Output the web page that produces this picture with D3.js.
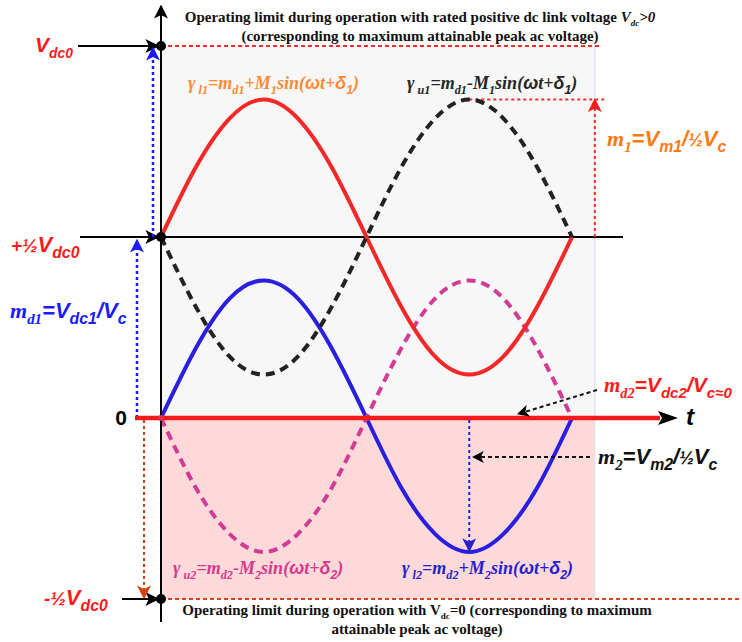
<!DOCTYPE html>
<html>
<head>
<meta charset="utf-8">
<script src="https://cdn.jsdelivr.net/npm/d3@7/dist/d3.min.js"></script>
<style>
  html, body { margin: 0; padding: 0; background: #fff; }
  svg { display: block; }
</style>
</head>
<body>
<svg id="chart" width="742" height="642"></svg>
<script>
// phase angle (deg) and the four switching-function curves
var phase   = [0, 30, 60, 90, 120, 150, 180, 210, 240, 270, 300, 330, 360];
var gammaL1 = [0.5, 0.68, 0.81, 0.86, 0.81, 0.68, 0.5, 0.31, 0.17, 0.12, 0.17, 0.31, 0.5];
var gammaU1 = [0.5, 0.31, 0.17, 0.12, 0.17, 0.31, 0.5, 0.68, 0.81, 0.86, 0.81, 0.68, 0.5];
var gammaL2 = [0, 0.19, 0.33, 0.38, 0.33, 0.19, 0, -0.19, -0.32, -0.37, -0.32, -0.19, 0];
var gammaU2 = [0, -0.19, -0.32, -0.37, -0.32, -0.19, 0, 0.19, 0.33, 0.38, 0.33, 0.19, 0];

// voltage levels on the vertical axis (in Vdc0 units)
var levels = [1, 0.5, 0, -0.5];

var topNote = ["Operating limit during operation with rated positive dc link voltage ",
               "(corresponding to maximum attainable peak ac voltage)"];
var botNote = ["Operating limit during operation with V", "=0 (corresponding to maximum",
               "attainable peak ac voltage)"];

var serif = "'Liberation Serif','Times New Roman',serif",
    sans  = "'Liberation Sans',Arial,sans-serif";

var svg = d3.select("#chart");

var x = d3.scaleLinear().domain([0, 360]).range([161, 572]);
var y = d3.scaleLinear().domain([-0.5, 0, 0.5, 1]).range([599, 418, 237, 46]);

var xEnd = x(380); // right edge of shaded areas

// arrowhead markers
var defs = svg.append("defs");
function marker(id, col, w) {
  defs.append("marker")
      .attr("id", id)
      .attr("viewBox", "0 0 10 10")
      .attr("refX", 9).attr("refY", 5)
      .attr("markerUnits", "userSpaceOnUse")
      .attr("markerWidth", w).attr("markerHeight", w)
      .attr("orient", "auto")
    .append("path")
      .attr("d", "M0,0L10,5L0,10L2.5,5z")
      .attr("fill", col);
}
marker("ak", "#000", 14);
marker("akS", "#000", 12);
marker("ab", "#1a1aff", 14);
marker("ar", "#ff1a1a", 14);
marker("ao", "#d8400c", 14);
marker("ab2", "#2a1fd0", 14);

// shaded regions
svg.append("rect")
    .attr("x", x(0)).attr("y", y(1))
    .attr("width", xEnd - x(0)).attr("height", y(0) - y(1))
    .attr("fill", "#f7f7f7");
svg.append("rect")
    .attr("x", x(0)).attr("y", y(0))
    .attr("width", xEnd - x(0)).attr("height", y(-0.5) - y(0))
    .attr("fill", "#fdd9d9");
svg.append("line")
    .attr("x1", xEnd).attr("x2", xEnd).attr("y1", y(1)).attr("y2", y(-0.5))
    .attr("stroke", "#dcdcf2").attr("stroke-width", 1.2);

function seg(x1, y1, x2, y2, col, w, dash, mk) {
  var l = svg.append("line")
      .attr("x1", x1).attr("y1", y1).attr("x2", x2).attr("y2", y2)
      .attr("stroke", col).attr("stroke-width", w);
  if (dash) l.attr("stroke-dasharray", dash);
  if (mk) l.attr("marker-end", "url(#" + mk + ")");
  return l;
}

// operating limit lines
seg(x(0), y(1), 602, y(1), "#ff2a2a", 2, "4,3");
seg(x(0), y(-0.5), 742, y(-0.5), "#e0401c", 2, "4,3");

// +1/2 Vdc0 reference line
seg(80, y(0.5), 623, y(0.5), "#000", 2);

// annotation for m1
seg(x(270), y(0.86), 606, y(0.86), "#ff2a2a", 2, "3,3");
seg(xEnd, y(0.5), xEnd, y(0.86), "#ff2a2a", 2, "3,3", "ar");

// left arrows
seg(78, y(1), 158, y(1), "#000", 2, null, "ak");
seg(120, y(0.5), 158, y(0.5), "#000", 2, null, "ak");
seg(122, y(-0.5), 158, y(-0.5), "#000", 2, null, "ak");
seg(153, y(0.5), 153, y(1) + 2, "#1a1aff", 2.5, "3,3", "ab");
seg(137, y(0), 137, y(0.5) + 3, "#1a1aff", 2.5, "3,3", "ab");
seg(144, y(0) + 2, 144, y(-0.5) - 1, "#d8400c", 2, "3,3", "ao");

// curves
var line = d3.line()
    .x(function(d) { return x(d[0]); })
    .y(function(d) { return y(d[1]); })
    .curve(d3.curveNatural);
function curve(vals, col, dash) {
  var p = svg.append("path")
      .datum(phase.map(function(t, i) { return [t, vals[i]]; }))
      .attr("d", line)
      .attr("fill", "none")
      .attr("stroke", col)
      .attr("stroke-width", 4)
      .attr("stroke-linecap", "butt");
  if (dash) p.attr("stroke-dasharray", dash);
}
curve(gammaL2, "#2a1fe0");
curve(gammaU2, "#d23c96", "9,6");
curve(gammaL1, "#f52828");
curve(gammaU1, "#222", "9,6");

// zero (time) axis
seg(135, y(0), 660, y(0), "#f41a1a", 4.5);
svg.append("path")
    .attr("d", "M658," + (y(0) - 7) + "L678," + y(0) + "L658," + (y(0) + 7) + "L662," + y(0) + "z")
    .attr("fill", "#000");

// vertical axis
seg(x(0), 622, x(0), 6, "#000", 2, null, "ak");

// md2 / m2 annotation arrows
seg(597, 390, 518, 414, "#111", 2, "4,3", "akS");
seg(590, 457, 473, 457, "#111", 2, "4,3", "akS");
seg(x(270), y(0) + 2, x(270), y(-0.37) - 1, "#2a1fd0", 2, "3,3", "ab2");

// level dots
svg.selectAll("circle.lvl")
    .data(levels.filter(function(v) { return v !== 0; }))
  .enter().append("circle")
    .attr("class", "lvl")
    .attr("cx", x(0)).attr("cy", function(d) { return y(d); })
    .attr("r", 5).attr("fill", "#000");
svg.append("circle").attr("cx", x(0)).attr("cy", y(0)).attr("r", 3).attr("fill", "#e0304a");

// rich text helper: parts = [text, family ('s'|'a'), sub?, scale]
function rich(px, py, parts, size, col, anchor, italic) {
  var t = svg.append("text")
      .attr("x", px).attr("y", py)
      .attr("fill", col)
      .attr("text-anchor", anchor || "start")
      .style("font-weight", "bold")
      .style("font-style", italic === false ? "normal" : "italic");
  var shift = 0;
  parts.forEach(function(p) {
    var sub = !!p[2];
    var sc = p[3] || (sub ? 0.68 : 1);
    var target = sub ? size * 0.28 : 0;
    t.append("tspan")
        .attr("dy", target - shift)
        .style("font-family", p[1] === "s" ? serif : sans)
        .style("font-size", (size * sc) + "px")
        .text(p[0]);
    shift = target;
  });
  return t;
}

// notes
rich(420, 22, [[topNote[0], "s", false], ["V", "s", false], ["dc", "s", true, 0.6], [">0", "s", false]], 15, "#111", "middle", false)
  .selectAll("tspan").filter(function(d, i) { return i > 0; }).style("font-style", "italic");
rich(420, 41, [[topNote[1], "s"]], 15, "#111", "middle", false);
rich(417, 615, [[botNote[0], "s"], ["dc", "s", true, 0.6], [botNote[1], "s"]], 15, "#111", "middle", false);
rich(417, 634, [[botNote[2], "s"]], 15, "#111", "middle", false);

// level labels
rich(35, 52, [["V", "a"], ["dc0", "a", true, 0.66]], 21, "#ff1a1a");
rich(11, 252, [["+", "a", false, 0.85], ["½", "a", false, 0.85], ["V", "a"], ["dc0", "a", true, 0.72]], 22, "#ff1a1a");
rich(10, 318, [["m", "s"], ["d1", "s", true], ["=V", "a"], ["dc1", "a", true, 0.72], ["/V", "a"], ["c", "a", true, 0.72]], 22, "#1a1aff");
rich(127, 425, [["0", "a"]], 21, "#000", "end", false);
rich(44, 605, [["-", "a", false, 0.85], ["½", "a", false, 0.85], ["V", "a"], ["dc0", "a", true, 0.72]], 22, "#ff1a1a");

// right labels
rich(607, 146, [["m", "s"], ["1", "s", true], ["=V", "a"], ["m1", "a", true, 0.72], ["/", "a"], ["½", "a", false, 0.8], ["V", "a"], ["c", "a", true, 0.72]], 22, "#ff7a12");
rich(604, 392, [["m", "s"], ["d2", "s", true], ["=V", "a"], ["dc2", "a", true, 0.72], ["/V", "a"], ["c≈0", "a", true, 0.72]], 21, "#ff1a1a");
rich(598, 464, [["m", "s"], ["2", "s", true], ["=V", "a"], ["m2", "a", true, 0.72], ["/", "a"], ["½", "a", false, 0.8], ["V", "a"], ["c", "a", true, 0.72]], 22, "#111");
rich(686, 425, [["t", "a"]], 24, "#000");

// curve equations
function eq(px, py, g, sign, n, col) {
  rich(px, py, [["γ", "s"], [" " + g + n, "s", true], ["=m", "s"], ["d" + n, "s", true],
                [sign + "M", "s"], [n, "s", true], ["sin(", "s"], ["ω", "a"], ["t+", "s"],
                ["δ", "a"], [n, "a", true], [")", "s"]], 18, col);
}
eq(188, 89, "l", "+", "1", "#ff8a36");
eq(407, 89, "u", "-", "1", "#262626");
eq(173, 574, "u", "-", "2", "#d8388e");
eq(402, 574, "l", "+", "2", "#2a1fd0");
</script>
</body>
</html>
